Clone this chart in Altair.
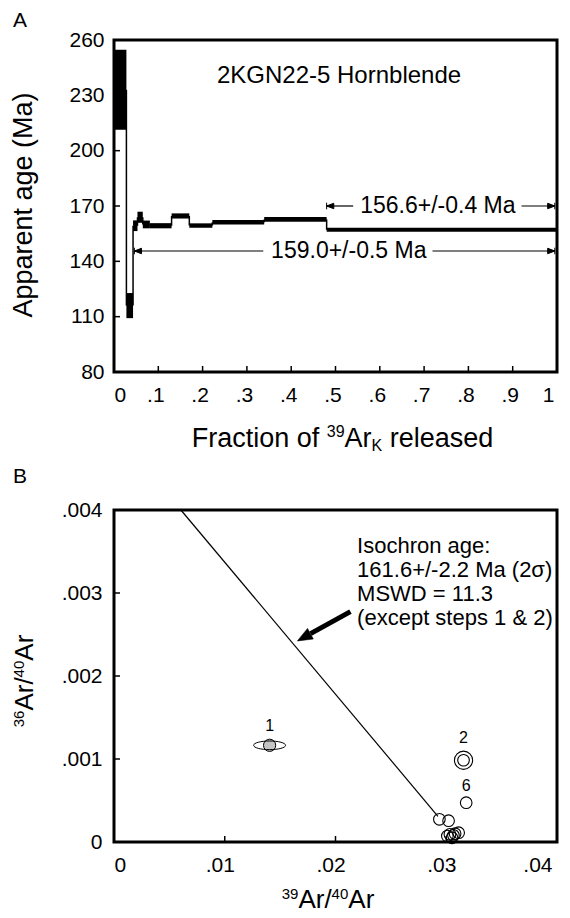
import math
import altair as alt
import pandas as pd

FONT = "Liberation Sans"
W, H = 443, 332

# ---------------- Panel A : age spectrum ----------------
step_start = [0.000, 0.028, 0.043, 0.053, 0.065, 0.081, 0.130, 0.170, 0.222, 0.339, 0.480]
step_end = [0.028, 0.043, 0.053, 0.065, 0.081, 0.130, 0.170, 0.222, 0.339, 0.480, 1.000]
step_age = [233.0, 116.0, 159.3, 163.9, 160.0, 159.3, 164.6, 159.4, 161.2, 162.7, 157.1]
step_err = [21.7, 6.8, 2.9, 3.0, 2.1, 1.4, 1.4, 1.2, 1.2, 1.3, 1.1]

a_x_ticks = [0.0, 0.1, 0.2, 0.3, 0.4, 0.5, 0.6, 0.7, 0.8, 0.9, 1.0]
a_y_ticks = [80, 110, 140, 170, 200, 230, 260]

sample_name = "2KGN22-5 Hornblende"
sample_at = [0.508, 240.5]

plateau_label = ["156.6+/-0.4 Ma", "159.0+/-0.5 Ma"]
plateau_age = [170.0, 145.6]
plateau_from = [0.480, 0.046]
plateau_to = [0.995, 0.995]
plateau_gap_from = [0.540, 0.337]
plateau_gap_to = [0.920, 0.719]
plateau_label_x = [0.731, 0.530]

# ---------------- Panel B : inverse isochron ----------------
iso_step = [1, 2, 3, 4, 5, 6, 7, 8, 9, 10, 11]
iso_x = [0.01405, 0.03156, 0.02938, 0.03021, 0.03033, 0.03180, 0.03080, 0.03112, 0.03010, 0.03052, 0.03065]
iso_y = [0.001165, 0.000985, 0.000273, 0.000257, 0.000093, 0.000474, 0.000100, 0.000112, 0.000072, 0.000050, 0.000080]
labelled_steps = ["1", "2", "6"]
labelled_x = [0.01405, 0.03156, 0.03180]
labelled_y = [0.001394, 0.001257, 0.000679]

isochron_x = [0.00604, 0.02925]
isochron_y = [0.00400, 0.00031]

b_x_ticks = [0.0, 0.01, 0.02, 0.03, 0.04]
b_y_ticks = [0.0, 0.001, 0.002, 0.003, 0.004]

isochron_note = ["Isochron age:", "161.6+/-2.2 Ma (2\u03c3)", "MSWD = 11.3", "(except steps 1 & 2)"]
note_at = [0.02195, 0.003476]
pointer_tail = [0.02135, 0.002775]
pointer_tip = [0.01655, 0.002422]

# ---------------- helpers ----------------
ARIAL = {'F': .611, 'r': .333, 'a': .556, 'c': .5, 't': .278, 'i': .222, 'o': .556, 'n': .556,
         ' ': .278, 'f': .278, 'e': .556, 'l': .222, 's': .5, 'd': .556, 'A': .667, 'K': .667,
         '/': .278, 'p': .556, 'g': .556, '(': .333, ')': .333, 'M': .833}


def tw(s, size):
    return sum(ARIAL.get(c, 0.556) for c in s) * size


def composite(parts, center, base, vertical=False):
    total = sum(tw(t, s) for t, s, _ in parts)
    cur = 0.0
    out = []
    for t, s, d in parts:
        lead = len(t) - len(t.lstrip(' '))
        shown = t.strip(' ')
        start = cur + tw(' ' * lead, s)
        if vertical:
            pos = dict(x=alt.value(base + d), y=alt.value(center + total / 2 - start))
            extra = dict(angle=270)
        else:
            pos = dict(x=alt.value(center - total / 2 + start), y=alt.value(base + d))
            extra = {}
        out.append(
            alt.Chart(pd.DataFrame({"t": [shown]}))
            .mark_text(font=FONT, fontSize=s, align="left", baseline="alphabetic", color="black", **extra)
            .encode(text="t:N", **pos)
        )
        cur += tw(t, s)
    return out


def letter(ch, x, y):
    return (alt.Chart(pd.DataFrame({"t": [ch]}))
            .mark_text(font=FONT, fontSize=21, align="center", baseline="middle", color="black")
            .encode(text="t:N", x=alt.value(x), y=alt.value(y)))


common = dict(domain=False, ticks=False, tickSize=0, grid=False, labelFont=FONT,
              labelFontSize=21, labelColor="black", title=None)

LEFT_HEAD = "M0,-1.2L0,1.2M0,0L2.6,-1L2.6,1Z"
RIGHT_HEAD = "M0,-1.2L0,1.2M0,0L-2.6,-1L-2.6,1Z"
ELLIPSE = "M-1,0A1,0.27,0,1,0,1,0A1,0.27,0,1,0,-1,0Z"
ARROW = "M0,0L-2.5,-1L-2.5,1Z"

# ---------------- Panel A chart ----------------
xA = alt.Scale(domain=[0, 1], nice=False, zero=False)
yA = alt.Scale(domain=[80, 260], nice=False, zero=False)
axAx = alt.Axis(values=a_x_ticks, labelExpr="replace(format(datum.value, '.1~f'), '0.', '.')",
                labelPadding=12,
                labelOffset={"condition": {"test": "datum.value == 0", "value": 0}, "value": -3},
                **common)
axAy = alt.Axis(values=a_y_ticks, format="d", labelPadding=10, **common)


def XA(f):
    return alt.X(f, type="quantitative", scale=xA, axis=axAx)


def YA(f):
    return alt.Y(f, type="quantitative", scale=yA, axis=axAy)


steps_df = pd.DataFrame({"start": step_start, "end": step_end, "age": step_age, "err": step_err})
steps_df["lo"] = steps_df["age"] - steps_df["err"]
steps_df["hi"] = steps_df["age"] + steps_df["err"]

boxes = alt.Chart(steps_df).mark_rect(color="black").encode(
    x=XA("start"), x2="end:Q", y=YA("lo"), y2="hi:Q")

links_df = pd.DataFrame({"at": step_end[:-1], "a0": step_age[:-1], "a1": step_age[1:]})
links = alt.Chart(links_df).mark_rule(color="black", strokeWidth=1.5).encode(
    x=XA("at"), y=YA("a0"), y2="a1:Q")

tickA_x = alt.Chart(pd.DataFrame({"v": a_x_ticks[1:-1]})).mark_rule(color="black", strokeWidth=1.5).encode(
    x=XA("v"), y=alt.value(H), y2=alt.value(H - 6))
tickA_y = alt.Chart(pd.DataFrame({"v": a_y_ticks[1:-1]})).mark_rule(color="black", strokeWidth=1.5).encode(
    y=YA("v"), x=alt.value(0), x2=alt.value(6))

pl = pd.DataFrame({"label": plateau_label, "age": plateau_age, "x0": plateau_from, "x1": plateau_to,
                   "g0": plateau_gap_from, "g1": plateau_gap_to, "tx": plateau_label_x})
seg_l = alt.Chart(pl).mark_rule(color="black", strokeWidth=1.2).encode(x=XA("x0"), x2="g0:Q", y=YA("age"))
seg_r = alt.Chart(pl).mark_rule(color="black", strokeWidth=1.2).encode(x=XA("g1"), x2="x1:Q", y=YA("age"))
head_l = alt.Chart(pl).mark_point(shape=LEFT_HEAD, filled=True, fill="black", stroke="black",
                                  strokeWidth=1, opacity=1, size=30).encode(x=XA("x0"), y=YA("age"))
head_r = alt.Chart(pl).mark_point(shape=RIGHT_HEAD, filled=True, fill="black", stroke="black",
                                  strokeWidth=1, opacity=1, size=30).encode(x=XA("x1"), y=YA("age"))
pl_text = alt.Chart(pl).mark_text(font=FONT, fontSize=23, color="black", align="center",
                                  baseline="middle").encode(x=XA("tx"), y=YA("age"), text="label:N")

sample = alt.Chart(pd.DataFrame({"t": [sample_name], "x": [sample_at[0]], "y": [sample_at[1]]})).mark_text(
    font=FONT, fontSize=24, color="black", align="center", baseline="middle").encode(
    x=XA("x"), y=YA("y"), text="t:N")

titleA_x = composite([("Fraction of ", 27, 0), ("39", 16, -10), ("Ar", 27, 0), ("K", 16, 4),
                      (" released", 27, 0)], center=228.5, base=407)
titleA_y = composite([("Apparent age (Ma)", 27, 0)], center=165, base=-82, vertical=True)

panelA = alt.layer(
    boxes, links, tickA_x, tickA_y,
    seg_l, seg_r, head_l, head_r, pl_text, sample, letter("A", -94, -19),
    *titleA_x, *titleA_y
).properties(width=W, height=H)

# ---------------- Panel B chart ----------------
xB = alt.Scale(domain=[0, 0.04], nice=False, zero=False)
yB = alt.Scale(domain=[0, 0.004], nice=False, zero=False)
axBx = alt.Axis(values=b_x_ticks, labelExpr="replace(format(datum.value, '.2~f'), '0.', '.')",
                labelPadding=12,
                labelOffset={"condition": {"test": "datum.value == 0", "value": 0}, "value": -5},
                **common)
axBy = alt.Axis(values=b_y_ticks, labelExpr="replace(format(datum.value, '.3~f'), '0.', '.')",
                labelPadding=12, **common)


def XB(f):
    return alt.X(f, type="quantitative", scale=xB, axis=axBx)


def YB(f):
    return alt.Y(f, type="quantitative", scale=yB, axis=axBy)


iso_df = pd.DataFrame({"x0": [isochron_x[0]], "x1": [isochron_x[1]],
                       "y0": [isochron_y[0]], "y1": [isochron_y[1]]})
iso_line = alt.Chart(iso_df).mark_rule(color="black", strokeWidth=1.2).encode(
    x=XB("x0"), x2="x1:Q", y=YB("y0"), y2="y1:Q")

tickB_x = alt.Chart(pd.DataFrame({"v": b_x_ticks[1:-1]})).mark_rule(color="black", strokeWidth=1.5).encode(
    x=XB("v"), y=alt.value(H), y2=alt.value(H - 6))
tickB_y = alt.Chart(pd.DataFrame({"v": b_y_ticks[1:-1]})).mark_rule(color="black", strokeWidth=1.5).encode(
    y=YB("v"), x=alt.value(0), x2=alt.value(6))

pts = pd.DataFrame({"step": iso_step, "x": iso_x, "y": iso_y})
rings = alt.Chart(pts).transform_filter("datum.step > 1").mark_point(
    shape="circle", filled=False, color="black", strokeWidth=1.1, opacity=1, size=135).encode(x=XB("x"), y=YB("y"))
outer2 = alt.Chart(pts).transform_filter("datum.step == 2").mark_point(
    shape="circle", filled=False, color="black", strokeWidth=1.1, opacity=1, size=330).encode(x=XB("x"), y=YB("y"))
core1 = alt.Chart(pts).transform_filter("datum.step == 1").mark_point(
    shape="circle", filled=True, fill="#c4c4c4", stroke="black", strokeWidth=1, opacity=1,
    size=150).encode(x=XB("x"), y=YB("y"))
ell1 = alt.Chart(pts).transform_filter("datum.step == 1").mark_point(
    shape=ELLIPSE, filled=False, color="black", strokeWidth=1, opacity=1, size=1024).encode(x=XB("x"), y=YB("y"))

lab = pd.DataFrame({"t": labelled_steps, "x": labelled_x, "y": labelled_y})
lab_text = alt.Chart(lab).mark_text(font=FONT, fontSize=16, color="black", align="center",
                                    baseline="middle").encode(text="t:N", x=XB("x"), y=YB("y"))

note = alt.Chart(pd.DataFrame({"t": ["\n".join(isochron_note)], "x": [note_at[0]], "y": [note_at[1]]})).mark_text(
    font=FONT, fontSize=22, color="black", align="left", baseline="alphabetic",
    lineBreak="\n", lineHeight=24).encode(text="t:N", x=XB("x"), y=YB("y"))

frac = 0.75
base_x = pointer_tail[0] + frac * (pointer_tip[0] - pointer_tail[0])
base_y = pointer_tail[1] + frac * (pointer_tip[1] - pointer_tail[1])
dxp = (pointer_tip[0] - pointer_tail[0]) / 0.04 * W
dyp = -(pointer_tip[1] - pointer_tail[1]) / 0.004 * H
ang = math.degrees(math.atan2(dyp, dxp)) % 360

ptr = pd.DataFrame({"x0": [pointer_tail[0]], "y0": [pointer_tail[1]], "x1": [base_x], "y1": [base_y],
                    "tx": [pointer_tip[0]], "ty": [pointer_tip[1]]})
shaft = alt.Chart(ptr).mark_rule(color="black", strokeWidth=5).encode(
    x=XB("x0"), x2="x1:Q", y=YB("y0"), y2="y1:Q")
head = alt.Chart(ptr).mark_point(shape=ARROW, filled=True, fill="black", stroke="black", strokeWidth=0.5,
                                 opacity=1, size=144, angle=ang).encode(x=XB("tx"), y=YB("ty"))

titleB_x = composite([("39", 15, -9), ("Ar/", 26, 0), ("40", 15, -9), ("Ar", 26, 0)], center=214, base=398)
titleB_y = composite([("36", 15, -9), ("Ar/", 26, 0), ("40", 15, -9), ("Ar", 26, 0)], center=171, base=-81,
                     vertical=True)

panelB = alt.layer(
    iso_line, tickB_x, tickB_y,
    rings, outer2, core1, ell1, lab_text, note, shaft, head, letter("B", -94, -33),
    *titleB_x, *titleB_y
).properties(width=W, height=H)

chart = alt.vconcat(panelA, panelB, spacing=8).properties(
    padding={"left": 0, "top": 0, "right": 0, "bottom": 0}, background="white"
).configure_view(stroke="black", strokeWidth=3)

chart.save("out.html", embed_options={"renderer": "svg", "actions": False})
